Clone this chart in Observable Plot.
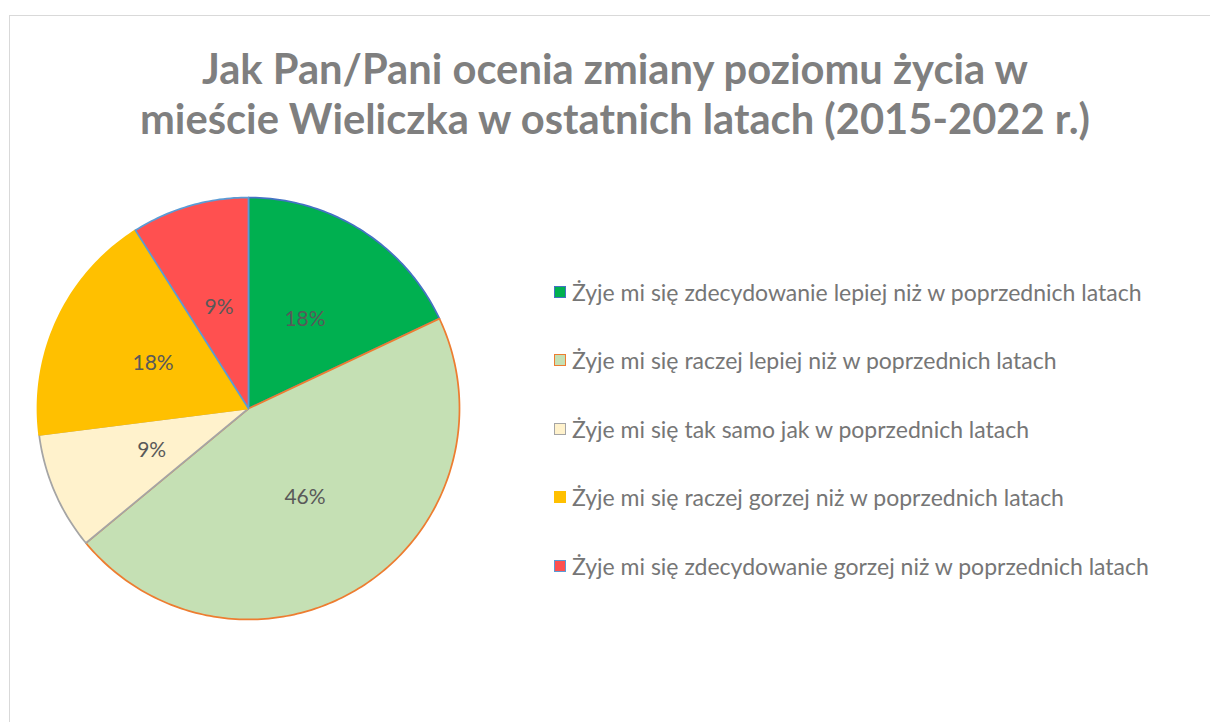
<!DOCTYPE html>
<html>
<head>
<meta charset="utf-8">
<script src="https://cdn.jsdelivr.net/npm/d3@7"></script>
<script src="https://cdn.jsdelivr.net/npm/@observablehq/plot@0.6"></script>
<style>
  html, body { margin: 0; padding: 0; background: #fff; }
  body { width: 1210px; height: 722px; position: relative; overflow: hidden; font-family: Lato, "Open Sans", sans-serif; }
  #frame { position: absolute; left: 9px; top: 15px; width: 1300px; height: 800px; border: 1px solid #d9d9d9; box-sizing: border-box; }
  #title { position: absolute; left: 0; top: 43px; width: 1230px; text-align: center; color: #7f7f7f; font-weight: bold; line-height: 50px; }
  #chart { position: absolute; left: 0; top: 170px; }
  #legend { position: absolute; left: 554px; top: 0; }
  .item { position: absolute; left: 0; white-space: nowrap; color: #767676; display: flex; align-items: center; }
  .sw { width: 10px; height: 10px; border: 1.5px solid; margin-right: 6px; }
</style>
</head>
<body>
<div id="frame"></div>
<div id="title"></div>
<div id="chart"></div>
<div id="legend"></div>
<script>
const titleLines = ["Jak Pan/Pani ocenia zmiany poziomu życia w", "mieście Wieliczka w ostatnich latach (2015-2022 r.)"];
const categories = [
  "Żyje mi się zdecydowanie lepiej niż w poprzednich latach",
  "Żyje mi się raczej lepiej niż w poprzednich latach",
  "Żyje mi się tak samo jak w poprzednich latach",
  "Żyje mi się raczej gorzej niż w poprzednich latach",
  "Żyje mi się zdecydowanie gorzej niż w poprzednich latach"
];
const values = [18, 46, 9, 18, 9];
const fills = ["#00B050", "#C5E0B4", "#FFF2CC", "#FFC000", "#FF5050"];
const strokes = ["#4472C4", "#ED7D31", "#A5A5A5", "#FFC000", "#5B9BD5"];

// fit font sizes to reference text widths
const ctx = document.createElement("canvas").getContext("2d");
function fitSize(text, weight, target, family) {
  ctx.font = `${weight} 100px ${family}`;
  return 100 * target / ctx.measureText(text).width;
}
const fam = "Lato";
const titleSize = fitSize(titleLines[0], "bold", 828, fam);
const legendSize = fitSize(categories[4], "normal", 578, fam);
const labelSize = 21;

const title = document.getElementById("title");
title.style.fontSize = titleSize + "px";
title.innerHTML = titleLines.join("<br>");

// pie geometry from data
const table = categories.map((c, i) => ({category: c, value: values[i], fill: fills[i], stroke: strokes[i]}));
const arcs = d3.pie().sort(null).value(d => d.value)(table);
function slicePoints(a) {
  const n = Math.max(2, Math.ceil((a.endAngle - a.startAngle) * 180 / Math.PI));
  const pts = [{x: 0, y: 0}];
  for (let k = 0; k <= n; k++) {
    const t = a.startAngle + (a.endAngle - a.startAngle) * k / n;
    pts.push({x: Math.sin(t), y: Math.cos(t)});
  }
  return pts;
}
const cx = 248, cy = 238, r = 211;
const marks = arcs.map(a => Plot.line(slicePoints(a), {
  x: "x", y: "y", curve: "linear-closed",
  fill: a.data.fill, stroke: a.data.stroke, strokeWidth: 1.75, strokeLinejoin: "round"
}));
const labels = arcs.map(a => {
  const m = (a.startAngle + a.endAngle) / 2;
  return {x: 0.5 * Math.sin(m), y: 0.5 * Math.cos(m), text: a.data.value + "%"};
});
marks.push(Plot.text(labels, {x: "x", y: "y", text: "text", fill: "#595959", fontSize: labelSize, fontFamily: fam}));

const plot = Plot.plot({
  width: 1210, height: 552,
  margin: 0,
  x: {domain: [-1, 1], range: [cx - r, cx + r], axis: null},
  y: {domain: [-1, 1], range: [cy + r, cy - r], axis: null},
  style: {background: "transparent", overflow: "visible"},
  marks
});
document.getElementById("chart").appendChild(plot);

// legend
const legend = document.getElementById("legend");
const legendY = [292, 360, 429, 497, 566];
table.forEach((d, i) => {
  const div = document.createElement("div");
  div.className = "item";
  div.style.fontSize = legendSize + "px";
  div.style.top = (legendY[i] - 15) + "px";
  div.style.height = "30px";
  const sw = document.createElement("span");
  sw.className = "sw";
  sw.style.background = d.fill;
  sw.style.borderColor = d.stroke;
  div.appendChild(sw);
  div.appendChild(document.createTextNode(d.category));
  legend.appendChild(div);
});
</script>
</body>
</html>
